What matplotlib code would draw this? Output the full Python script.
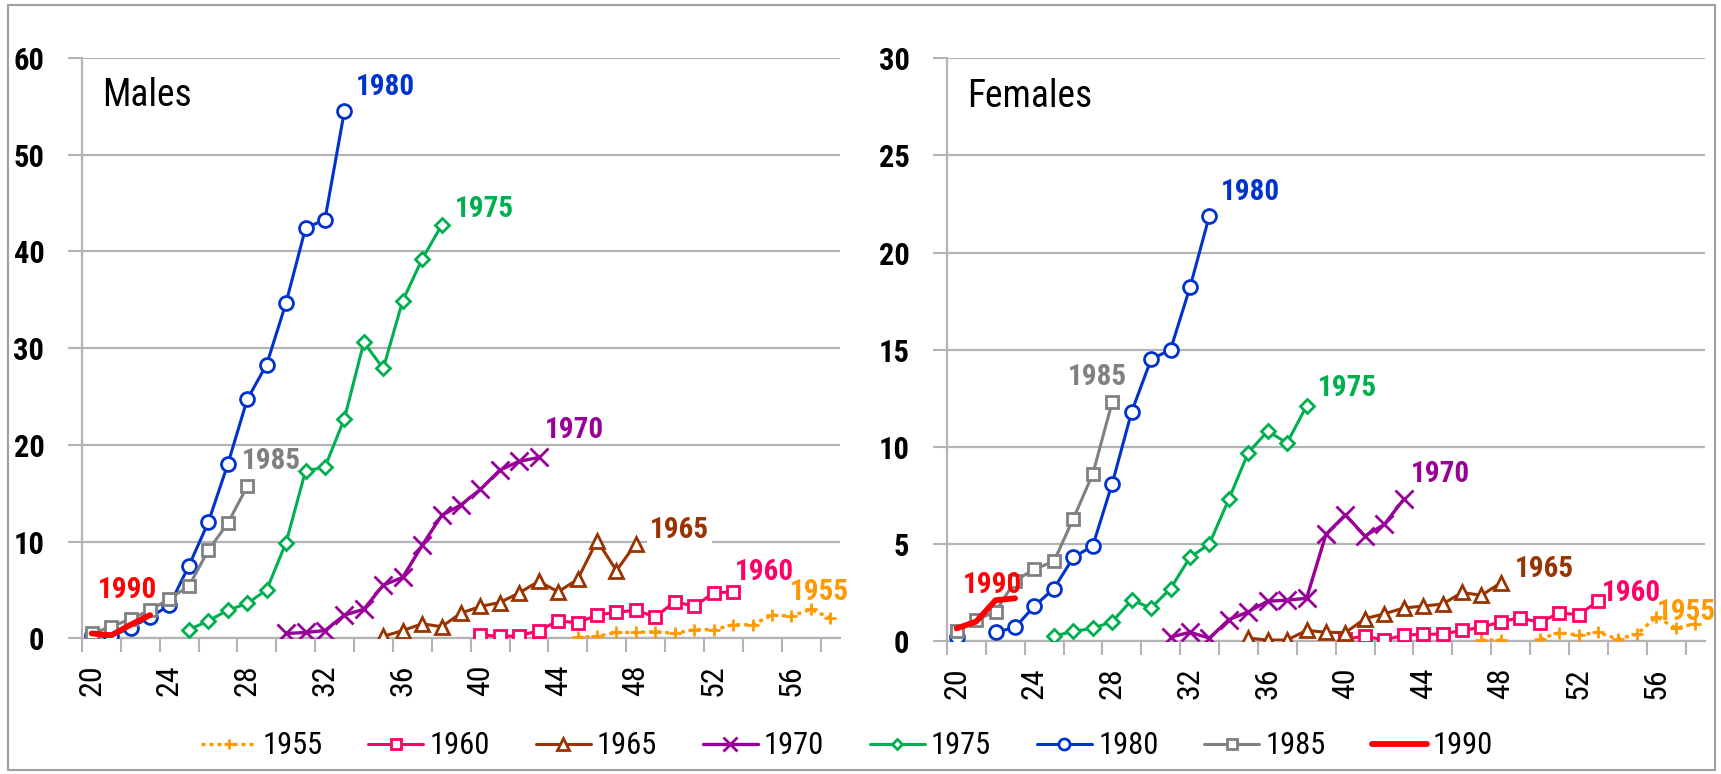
import matplotlib
matplotlib.use('Agg')
import matplotlib.pyplot as plt
import matplotlib.patches as patches
import numpy as np

plt.rcParams['font.family'] = ['Liberation Sans Narrow', 'Roboto Condensed', 'Open Sans Condensed',
                               'Liberation Sans', 'DejaVu Sans']

nan = np.nan
cohorts = ['1955', '1960', '1965', '1970', '1975', '1980', '1985', '1990']
start_age = [45, 40, 35, 30, 25, 20, 20, 20]

# Males, one list per birth cohort (value per year of age from start_age)
m1955 = [0.1, 0.2, 0.6, 0.6, 0.7, 0.5, 0.9, 0.9, 1.4, 1.4, 2.4, 2.3, 3.0, 2.1]
m1960 = [0.35, 0.2, 0.25, 0.8, 1.8, 1.6, 2.4, 2.7, 2.9, 2.2, 3.8, 3.3, 4.7, 4.8]
m1965 = [0.2, 0.8, 1.5, 1.2, 2.6, 3.3, 3.7, 4.7, 5.9, 4.8, 6.1, 10.1, 7.0, 9.8]
m1970 = [0.5, 0.6, 0.8, 2.4, 3.0, 5.5, 6.3, 9.6, 12.7, 13.8, 15.4, 17.4, 18.3, 18.7]
m1975 = [0.9, 1.8, 2.9, 3.6, 5.0, 9.9, 17.3, 17.7, 22.7, 30.6, 27.9, 34.9, 39.2, 42.7]
m1980 = [0.3, 0.2, 1.1, 2.2, 3.4, 7.5, 12.0, 18.0, 24.7, 28.3, 34.7, 42.4, 43.3, 54.5]
m1985 = [0.5, 1.2, 2.0, 2.9, 4.1, 5.4, 9.1, 11.9, 15.7]
m1990 = [0.5, 0.3, 1.4, 2.4]

# Females
f1955 = [nan, nan, 0.05, 0.05, nan, 0.1, 0.43, 0.3, 0.45, 0.1, 0.35, 1.25, 0.65, 0.9]
f1960 = [0.1, 0.25, 0.05, 0.3, 0.35, 0.35, 0.55, 0.7, 1.0, 1.2, 0.95, 1.45, 1.35, 2.05]
f1965 = [0.15, 0.05, 0.05, 0.55, 0.45, 0.43, 1.15, 1.4, 1.7, 1.8, 1.9, 2.5, 2.35, 3.0]
f1970 = [nan, 0.2, 0.45, 0.15, 1.1, 1.5, 2.05, 2.1, 2.2, 5.5, 6.5, 5.4, 6.0, 7.3]
f1975 = [0.25, 0.5, 0.65, 1.0, 2.1, 1.7, 2.7, 4.3, 5.0, 7.3, 9.7, 10.8, 10.2, 12.1]
f1980 = [0.2, nan, 0.45, 0.7, 1.8, 2.7, 4.3, 4.9, 8.1, 11.8, 14.5, 15.0, 18.2, 21.9]
f1985 = [0.5, 1.1, 1.5, 3.1, 3.7, 4.1, 6.3, 8.6, 12.3]
f1990 = [0.65, 1.0, 2.1, 2.2]

males = [m1955, m1960, m1965, m1970, m1975, m1980, m1985, m1990]
females = [f1955, f1960, f1965, f1970, f1975, f1980, f1985, f1990]

age_labels = [20, 24, 28, 32, 36, 40, 44, 48, 52, 56]

colors = ['#FF9900', '#FF0066', '#993300', '#990099', '#00B050', '#0033CC', '#808080', '#FF0000']
markers = ['+', 's', '^', 'x', 'D', 'o', 's', None]
msizes = [9, 9, 10, 13, 7, 10, 9, 0]
lstyles = [(0, (1.2, 1.2)), '-', '-', '-', '-', '-', '-', '-']
lwidths = [2.4, 2.2, 2.2, 2.4, 2.2, 2.2, 2.2, 4.2]

# where the cohort names sit (age, value)
male_lab = [(55.9, 4.8), (53.1, 6.9), (48.7, 11.2), (43.3, 21.5),
            (38.7, 44.4), (33.6, 57.0), (27.7, 18.3), (20.3, 5.0)]
female_lab = [(56.0, 1.5), (53.2, 2.45), (48.7, 3.7), (43.35, 8.6),
              (38.6, 13.0), (33.6, 23.1), (25.7, 13.6), (20.3, 2.9)]

fig = plt.figure(figsize=(17.21, 7.74), dpi=100)
fig.patches.append(patches.Rectangle((8 / 1721, 4 / 774), 1707 / 1721, 765 / 774,
                                     transform=fig.transFigure, fill=False,
                                     edgecolor='#A0A0A0', linewidth=1.5))

ax1 = fig.add_axes([82 / 1721, 1 - 638.3 / 774, 758 / 1721, 580.3 / 774])
ax2 = fig.add_axes([947 / 1721, 1 - 641 / 774, 758 / 1721, 582.7 / 774])

grey = '#B4B4B4'


def draw_panel(ax, data, labpos, ymax, ystep, title):
    handles = []
    for i in range(len(cohorts)):
        vals = np.array(data[i], dtype=float)
        x = np.arange(start_age[i], start_age[i] + len(vals))
        h, = ax.plot(x, vals, color=colors[i], linestyle=lstyles[i], linewidth=lwidths[i],
                     marker=markers[i], markersize=msizes[i], markerfacecolor='white',
                     markeredgecolor=colors[i], markeredgewidth=2.0,
                     solid_capstyle='round', label=cohorts[i], zorder=3 + i)
        handles.append(h)
        bbox = None
        if title == 'Males' and cohorts[i] == '1965':
            bbox = dict(facecolor='white', edgecolor='none', pad=2)
        ax.text(labpos[i][0], labpos[i][1], cohorts[i], color=colors[i], fontsize=21,
                fontweight='bold', ha='left', va='center', bbox=bbox, zorder=20)

    ax.set_xlim(19.5, 58.5)
    ax.set_ylim(0, ymax)
    ax.set_xticks(np.arange(19.5, 58, 2))
    ax.set_xticklabels([])
    ax.set_xticks(age_labels, minor=True)
    ax.set_xticklabels([str(a) for a in age_labels], minor=True, rotation=90, fontsize=23)
    ax.tick_params(axis='x', which='major', length=10, width=1.5, color=grey, direction='out')
    ax.tick_params(axis='x', which='minor', length=0, pad=19)
    ax.set_yticks(np.arange(0, ymax + 0.1, ystep))
    ax.set_yticklabels([str(int(v)) for v in np.arange(0, ymax + 0.1, ystep)],
                       fontsize=22, fontweight='bold')
    ax.tick_params(axis='y', length=10, width=1.5, color=grey, pad=17)
    ax.yaxis.grid(True, color=grey, linewidth=1.6)
    ax.set_axisbelow(True)
    for s in ['top', 'right']:
        ax.spines[s].set_visible(False)
    for s in ['left', 'bottom']:
        ax.spines[s].set_color(grey)
        ax.spines[s].set_linewidth(1.6)
    ax.text(0.027, 0.935, title, transform=ax.transAxes, fontsize=27, ha='left', va='center')
    return handles


handles = draw_panel(ax1, males, male_lab, 60, 10, 'Males')
draw_panel(ax2, females, female_lab, 30, 5, 'Females')

leg = fig.legend(handles=handles, loc='center', bbox_to_anchor=(847 / 1721, 1 - 746 / 774),
                 ncol=8, frameon=False, fontsize=22, handlelength=1.8, handletextpad=0.2,
                 columnspacing=1.5, markerscale=0.8)

fig.savefig('out.png', dpi=100)
